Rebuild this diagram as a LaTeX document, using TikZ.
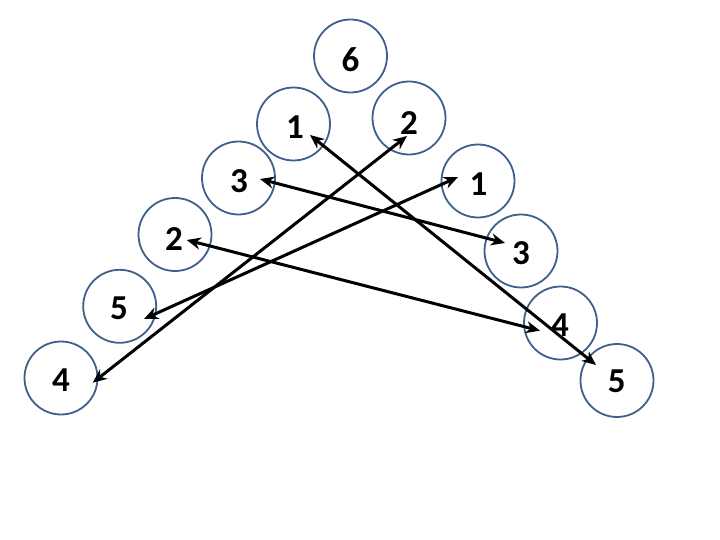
\documentclass[tikz,border=0pt]{standalone}
\usepackage{fontspec}
\setmainfont{Carlito}
\usetikzlibrary{arrows.meta,calc}
\definecolor{ring}{HTML}{3F5F8C}
\begin{document}
\begin{tikzpicture}[x=1pt,y=-1pt,
  circ/.style={circle,draw=ring,line width=1.8pt,minimum size=73pt,inner sep=0pt},
  num/.style={font=\bfseries\fontsize{35}{35}\selectfont,inner sep=0pt},
  link/.style={line width=3pt,{Stealth[length=14pt,width=12pt,inset=4.5pt]}-{Stealth[length=14pt,width=12pt,inset=4.5pt]}}]
\path[use as bounding box] (0,0) rectangle (720,540);
\node[circ] (T6) at (350.5,56) {};
\node[circ] (L1) at (293.5,124) {};
\node[circ] (R2) at (409,118) {};
\node[circ] (L3) at (238.5,178) {};
\node[circ] (R1) at (478,181) {};
\node[circ] (L2) at (175,234.5) {};
\node[circ] (R3) at (521,251) {};
\node[circ] (L5) at (119.7,306.3) {};
\node[circ] (R4) at (560.5,323) {};
\node[circ] (L4) at (61,378) {};
\node[circ] (R5) at (617,380.5) {};
\node[num] (t6) at ($(T6)+(0,4)$) {6};
\node[num] (t1) at ($(L1)+(1.5,3)$) {1};
\node[num] (t2) at ($(R2)+(0,5)$) {2};
\node[num] (t3) at ($(L3)+(0.5,3)$) {3};
\node[num] (t1b) at ($(R1)+(0.5,3.5)$) {1};
\node[num] (t2b) at ($(L2)+(-1,4.5)$) {2};
\node[num] (t3b) at ($(R3)+(0,2)$) {3};
\node[num] (t5) at ($(L5)+(-0.7,1.7)$) {5};
\node[num] (t4) at ($(R4)+(-0.5,2)$) {4};
\node[num] (t4b) at ($(L4)+(0,2)$) {4};
\node[num] (t5b) at ($(R5)+(-0.3,1.2)$) {5};
\draw[link] ($(L1)+(16.5,11)$) -- ($(R5)+(-21,-15.5)$);
\draw[link] ($(R2)+(-2,18)$) -- ($(L4)+(31.7,4.7)$);
\draw[link] ($(L3)+(21.5,1)$) -- ($(R3)+(-16,-8)$);
\draw[link] ($(R1)+(-20,-4)$) -- ($(L5)+(24.3,12.7)$);
\draw[link] ($(L2)+(11.7,5.5)$) -- ($(R4)+(-20.5,7.7)$);
\end{tikzpicture}
\end{document}
